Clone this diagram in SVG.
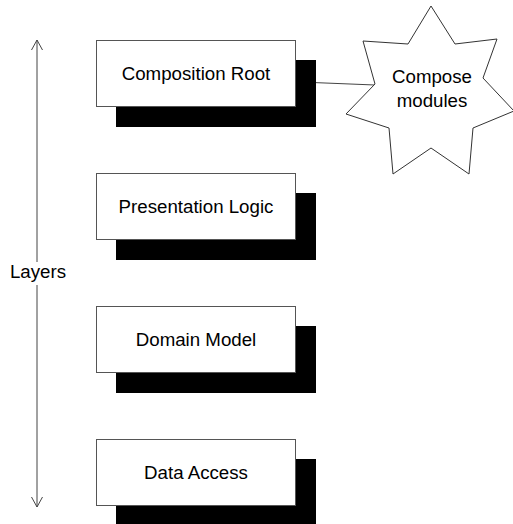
<svg xmlns="http://www.w3.org/2000/svg" width="513" height="524" viewBox="0 0 513 524">
<defs>
<style>
.box{fill:#fff;stroke:#555;stroke-width:1}
.shadow{fill:#000}
.lbl{font-family:"Liberation Sans",Arial,sans-serif;font-size:18.7px;fill:#000;text-anchor:middle}
.ln{stroke:#444;stroke-width:1;fill:none}
</style>
<marker id="open" viewBox="0 0 12 12" refX="11" refY="6" markerWidth="12" markerHeight="12" markerUnits="userSpaceOnUse" orient="auto-start-reverse">
<path d="M1,0.5 L11,6 L1,11.5" fill="none" stroke="#444" stroke-width="1"/>
</marker>
</defs>
<rect width="513" height="524" fill="#fff"/>
<g id="connectors">
<line class="ln" x1="37" y1="40" x2="37" y2="262" marker-start="url(#open)"/>
<line class="ln" x1="37" y1="285" x2="37" y2="507" marker-end="url(#open)"/>
<line class="ln" x1="300" y1="82" x2="375" y2="85"/>
</g>
<g id="layers-label">
<text class="lbl" x="38" y="278">Layers</text>
</g>
<g id="composition-root">
<rect class="shadow" x="116" y="60" width="200" height="67"/>
<rect class="box" x="96.5" y="40.5" width="199" height="66"/>
<text class="lbl" x="196" y="80">Composition Root</text>
</g>
<g id="presentation-logic">
<rect class="shadow" x="116" y="193" width="200" height="67"/>
<rect class="box" x="96.5" y="173.5" width="199" height="66"/>
<text class="lbl" x="196" y="213">Presentation Logic</text>
</g>
<g id="domain-model">
<rect class="shadow" x="116" y="326" width="200" height="67"/>
<rect class="box" x="96.5" y="306.5" width="199" height="66"/>
<text class="lbl" x="196" y="346">Domain Model</text>
</g>
<g id="data-access">
<rect class="shadow" x="116" y="459" width="200" height="67"/>
<rect class="box" x="96.5" y="439.5" width="199" height="66"/>
<text class="lbl" x="196" y="479">Data Access</text>
</g>
<g id="compose-modules">
<polygon points="431,6 455,44 497,39 483,78 514,111 473,128 469,174 431,148 393,174 389,128 346,114 375,84 363,41 408,44" fill="#fff" stroke="#333" stroke-width="1"/>
<text class="lbl" x="432" y="83">Compose</text>
<text class="lbl" x="432" y="107">modules</text>
</g>
</svg>
